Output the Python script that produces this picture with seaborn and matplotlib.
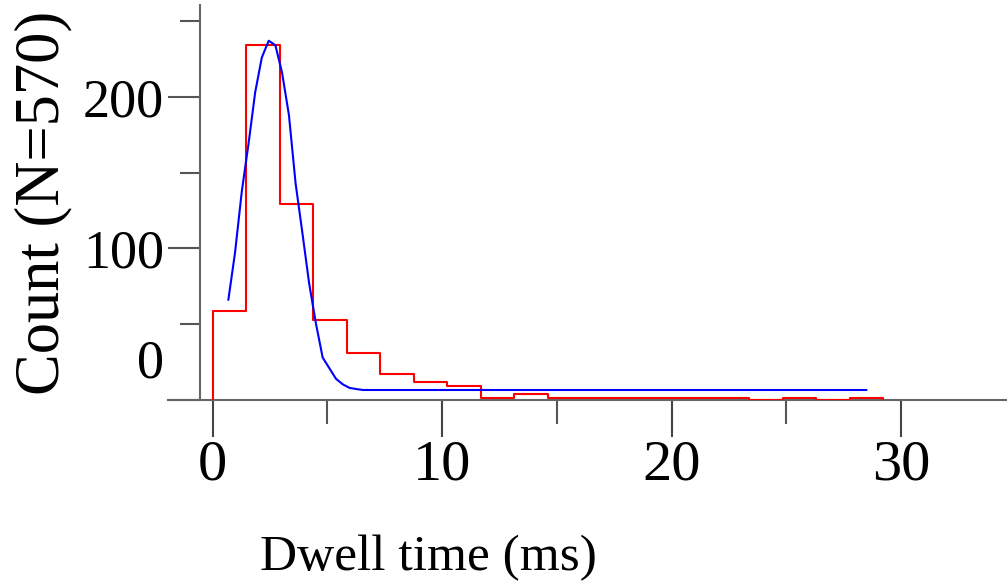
import numpy as np
import pandas as pd
import matplotlib
matplotlib.use("Agg")
import matplotlib.pyplot as plt
from matplotlib.transforms import ScaledTranslation
from matplotlib.ticker import FixedLocator
import seaborn as sns

# ---- data ----
bin_width = 1.4615
counts = [59, 234, 129, 53, 31, 17, 12, 9, 1, 4, 1, 1, 1, 1, 1, 1, 0, 1, 0, 1]
edges = [i * bin_width for i in range(len(counts) + 1)]
centers = [(edges[i] + edges[i + 1]) / 2 for i in range(len(counts))]

fit_t = [0.69, 0.98, 1.28, 1.57, 1.86, 2.15, 2.45, 2.74, 3.03, 3.33, 3.62, 3.91,
         4.21, 4.50, 4.80, 5.09, 5.38, 5.68, 5.97, 6.27, 6.56, 10.0, 15.0, 20.0,
         25.0, 28.5]
fit_y = [66, 97, 138, 169, 203, 226, 237, 234, 216, 188, 143, 111,
         77, 51, 28, 21, 14.0, 10.3, 8.0, 7.2, 6.6, 6.6, 6.6, 6.6,
         6.6, 6.6]

x_major = [0, 10, 20, 30]
x_minor = [5, 15, 25]
y_major = [0, 100, 200]
y_minor = [50, 150, 250]

xlabel = "Dwell time (ms)"
ylabel = "Count (N=570)"

# ---- style ----
sns.set_style("white")
plt.rcParams["font.family"] = ["Liberation Serif", "DejaVu Serif"]
plt.rcParams["text.color"] = "black"
plt.rcParams["axes.labelcolor"] = "black"
plt.rcParams["xtick.labelcolor"] = "black"
plt.rcParams["ytick.labelcolor"] = "black"

fig = plt.figure(figsize=(10.07, 5.81), dpi=100)
ax = fig.add_axes([168 / 1007, (581 - 400) / 581, (1007 - 168) / 1007, (400 - 5) / 581])

df = pd.DataFrame({"t": centers, "n": counts})
sns.histplot(data=df, x="t", weights="n", bins=edges, element="step", fill=False,
             color="#ff0000", linewidth=1.5, ax=ax, zorder=3)
ax.vlines([edges[0], edges[-1]], 0, [counts[0], counts[-1]], color="#ff0000",
          linewidth=1.5, zorder=3)

sns.lineplot(x=fit_t, y=fit_y, color="#0000ff", linewidth=1.5, estimator=None,
             sort=False, ax=ax, zorder=4)

ax.set_xlim((168 - 212.5) / 22.95, (1007 - 212.5) / 22.95)
ax.set_ylim(0, (400 - 5) / 1.516)

for s in ["top", "right"]:
    ax.spines[s].set_visible(False)
ax.spines["left"].set_position(("data", (200 - 212.5) / 22.95))
for s in ["left", "bottom"]:
    ax.spines[s].set_color("#666666")
    ax.spines[s].set_linewidth(1.5)
    ax.spines[s].set_zorder(2)

ax.xaxis.set_major_locator(FixedLocator(x_major))
ax.xaxis.set_minor_locator(FixedLocator(x_minor))
ax.yaxis.set_major_locator(FixedLocator(y_major))
ax.yaxis.set_minor_locator(FixedLocator(y_minor))
ax.set_xticklabels([str(v) for v in x_major])
ax.set_yticklabels([str(v) for v in y_major])

ax.tick_params(axis="both", which="both", bottom=True, left=True, top=False, right=False)
ax.tick_params(axis="x", which="major", direction="out", length=26.5, width=1.5,
               color="#444444", labelsize=42, pad=2)
ax.tick_params(axis="x", which="minor", direction="out", length=17, width=1.5,
               color="#555555")
ax.tick_params(axis="y", which="major", direction="out", length=23, width=1.5,
               color="#555555", labelsize=39, pad=3)
ax.tick_params(axis="y", which="minor", direction="out", length=14.4, width=1.5,
               color="#555555")

ax.set_xlabel(xlabel, fontsize=37, labelpad=0)
ax.set_ylabel(ylabel, fontsize=45, labelpad=0)
ax.yaxis.set_label_coords(-0.114, 0.5)
ax.xaxis.set_label_coords(0.31, -0.34)

# the "0" label sits above the baseline in the reference
for lab in ax.get_yticklabels():
    if lab.get_text() == "0":
        lab.set_transform(lab.get_transform() + ScaledTranslation(0, 0.42, fig.dpi_scale_trans))

fig.savefig("out.png", dpi=100)
